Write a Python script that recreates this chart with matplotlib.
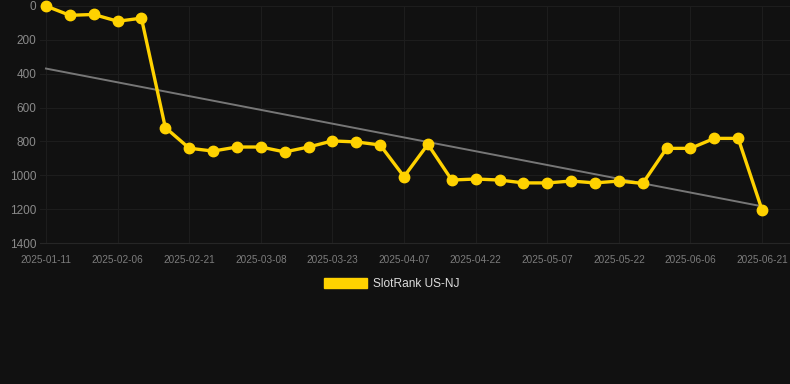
import numpy as np
import matplotlib
matplotlib.use("Agg")
import matplotlib.pyplot as plt
from matplotlib.patches import Patch

plt.rcParams['font.family'] = ['Liberation Sans', 'DejaVu Sans']

# rank per observation (31 points, evenly spaced on a category axis)
ranks = [0, 55, 50, 90, 72, 718, 840, 857, 833, 833, 862, 833, 797, 803, 821,
         1008, 817, 1028, 1022, 1028, 1045, 1045, 1034, 1045, 1034, 1048,
         841, 841, 782, 782, 1205]
tick_labels = ['2025-01-11', '2025-02-06', '2025-02-21', '2025-03-08',
               '2025-03-23', '2025-04-07', '2025-04-22', '2025-05-07',
               '2025-05-22', '2025-06-06', '2025-06-21']
y_ticks = [0, 200, 400, 600, 800, 1000, 1200, 1400]
series_name = 'SlotRank US-NJ'

bg = '#111111'
gold = '#FFD200'

fig = plt.figure(figsize=(7.9, 3.84), dpi=100, facecolor=bg)
ax = fig.add_axes([40/790, 1-243/384, 750/790, 237/384], facecolor=bg)

x = np.arange(len(ranks))
coef = np.polyfit(x, ranks, 1)
ax.plot(x, np.polyval(coef, x), color='#777777', lw=1.4, zorder=2)
ax.plot(x, ranks, color=gold, lw=2.4, marker='o', ms=7.5, zorder=3, clip_on=False)

ax.set_xlim(-0.25, 31.17)
ax.set_ylim(1400, 0)
ax.set_xticks(x[::3])
ax.set_xticklabels(tick_labels)
ax.set_yticks(y_ticks)
ax.grid(True, color='#1d1d1d', lw=0.8)
ax.set_axisbelow(True)
for s in ['top', 'right', 'left']:
    ax.spines[s].set_visible(False)
ax.spines['bottom'].set_color('#262626')
ax.tick_params(axis='x', length=0, pad=8.5, labelsize=7.2, labelcolor='#7c7c7c')
ax.tick_params(axis='y', length=0, pad=2.5, labelsize=8.5, labelcolor='#8a8a8a')

fig.legend(handles=[Patch(facecolor=gold, edgecolor=gold)], labels=[series_name],
           loc='center', bbox_to_anchor=(392/790, 1-284/384), frameon=False,
           fontsize=8.6, labelcolor='#dddddd', handlelength=3.6, handleheight=1.0,
           handletextpad=0.5)

fig.savefig('out.png', dpi=100, facecolor=bg)
